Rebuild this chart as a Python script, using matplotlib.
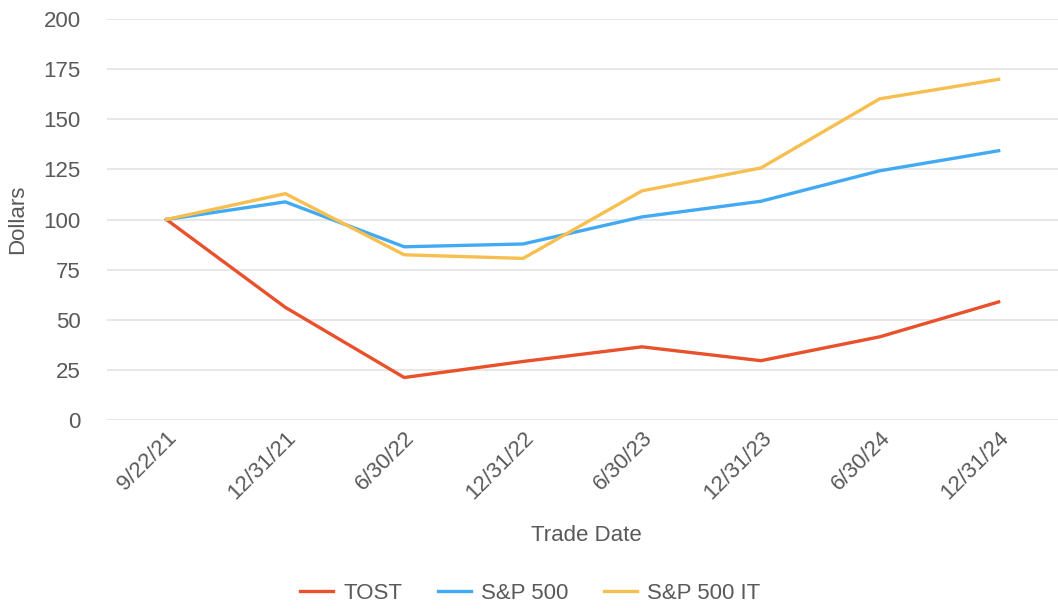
import numpy as np
import matplotlib.pyplot as plt

plt.rcParams['font.family'] = ['Liberation Sans', 'DejaVu Sans']

dates = ['9/22/21', '12/31/21', '6/30/22', '12/31/22', '6/30/23', '12/31/23', '6/30/24', '12/31/24']
tost = [100, 56.2, 21.2, 29.2, 36.5, 29.6, 41.5, 58.9]
sp500 = [100, 108.8, 86.4, 87.8, 101.3, 109.1, 124.3, 134.3]
sp500_it = [100, 112.9, 82.4, 80.6, 114.3, 125.7, 160.2, 169.9]

gray = '#595959'
fig = plt.figure(figsize=(10.58, 6.09), dpi=100)
ax = fig.add_axes([0.1011, 0.3103, 0.899, 0.6585])

x = np.arange(len(dates))
ax.plot(x, tost, color='#E8512B', lw=2.4, label='TOST')
ax.plot(x, sp500, color='#42AAF3', lw=2.4, label='S&P 500')
ax.plot(x, sp500_it, color='#F6BF50', lw=2.4, label='S&P 500 IT')

ax.set_xlim(-0.5, 7.5)
ax.set_ylim(0, 200)
ax.set_yticks(range(0, 201, 25))
ax.set_xticks(x)
ax.set_xticklabels(dates, rotation=45, ha='right', rotation_mode='anchor')
ax.grid(axis='y', color='#E3E3E3', lw=1.2)
ax.set_axisbelow(True)
for s in ax.spines.values():
    s.set_visible(False)
ax.tick_params(length=0, labelsize=16, colors=gray)
ax.tick_params(axis='y', pad=19)
ax.tick_params(axis='x', pad=5)

fig.text(0.017, 0.64, 'Dollars', fontsize=16, color=gray, rotation=90, ha='center', va='center')
fig.text(0.554, 0.121, 'Trade Date', fontsize=16, color=gray, ha='center', va='center')

fig.legend(loc='center', bbox_to_anchor=(0.501, 0.026), ncol=3, frameon=False,
           fontsize=16, labelcolor=gray, handlelength=1.5, columnspacing=1.6, handletextpad=0.45)

fig.savefig('out.png', dpi=100)
